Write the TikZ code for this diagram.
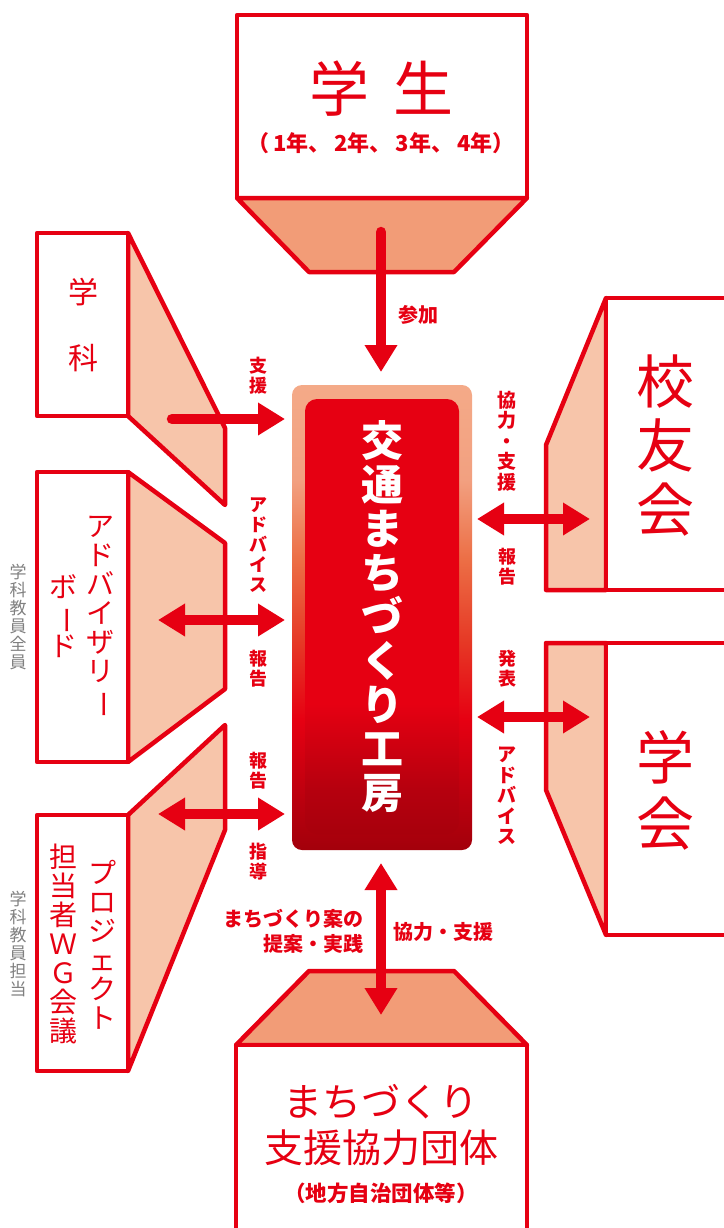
\documentclass[tikz,border=0pt]{standalone}
\usepackage{fontspec}
\usepackage{graphicx}
\newfontfamily\jp{Noto Sans CJK JP}
\usetikzlibrary{arrows.meta}
\definecolor{kred}{HTML}{E60012}
\definecolor{roofc}{HTML}{F29C77}
\definecolor{peach}{HTML}{F7C5AA}
\definecolor{kgray}{HTML}{808080}
\definecolor{o1}{HTML}{A3000B}
\definecolor{o2}{HTML}{B8000E}
\definecolor{o3}{HTML}{E63A26}
\definecolor{o4}{HTML}{EC6E45}
\definecolor{o5}{HTML}{F2A080}
\definecolor{o6}{HTML}{F4AA88}
\definecolor{i1}{HTML}{A8000C}
\definecolor{i2}{HTML}{B5000E}
\pgfdeclareverticalshading{outersh}{100bp}{color(0bp)=(o1); color(25bp)=(o1); color(30bp)=(o2); color(39bp)=(kred); color(47.6bp)=(o3); color(56.2bp)=(o4); color(64.8bp)=(o5); color(75bp)=(o6); color(100bp)=(o6)}
\pgfdeclareverticalshading{innersh}{100bp}{color(0bp)=(i1); color(25bp)=(i1); color(30bp)=(i2); color(40bp)=(kred); color(100bp)=(kred)}
\newcommand\vchoon{\rotatebox[origin=c]{-90}{ー}}
\tikzset{
  box/.style={draw=kred, line width=4.5pt, fill=white, line join=round},
  panel/.style={draw=kred, line width=4.5pt, fill=peach, line join=round},
  roof/.style={draw=kred, line width=4.5pt, fill=roofc, line join=round},
  tipT/.tip={Triangle[width=31pt,length=27pt]},
  arr/.style={draw=kred, line width=10.5pt, line cap=round, -tipT},
  darr/.style={draw=kred, line width=10.5pt, tipT-tipT},
  lab/.style={text=kred, font=\jp\bfseries\fontsize{18}{19.8}\selectfont, align=center, inner sep=0pt},
  big/.style={text=kred, align=center, inner sep=0pt},
  side/.style={text=kgray, font=\jp\fontsize{17}{18}\selectfont, align=center, inner sep=0pt}
}
\begin{document}
\begin{tikzpicture}[x=1pt,y=-1pt]
\useasboundingbox (0,0) rectangle (723,1228);
% ---- top: students
\path[box] (237,15) rectangle (527,198);
\path[roof] (237,198) -- (309,272) -- (454,272) -- (527,198) -- cycle;
\node[big, font=\jp\fontsize{60}{62}\selectfont] (gakusei) at (381,89) {学\hspace{24pt}生};
\node[big, font=\jp\bfseries\fontsize{22}{25}\selectfont] (nen) at (381,143) {（\hspace{4pt}1年、\hspace{4pt}2年、\hspace{4pt}3年、\hspace{4pt}4年）};
% ---- left boxes
\path[panel] (128,233) -- (225,428) -- (225,505) -- (128,416) -- cycle;
\path[box] (37,233) rectangle (128,416);
\node[big, font=\jp\fontsize{30}{66}\selectfont] (gakka) at (83,325) {学\\科};
\path[panel] (128,472) -- (225,543) -- (225,689) -- (128,762) -- cycle;
\path[box] (37,472) rectangle (128,762);
\node[big, font=\jp\fontsize{28}{29}\selectfont] (adv1) at (100,617) {ア\\ド\\バ\\イ\\ザ\\リ\\\vchoon};
\node[big, font=\jp\fontsize{28}{29}\selectfont] (adv2) at (63,616) {ボ\\\vchoon\\ド};
\path[panel] (128,815) -- (225,725) -- (225,830) -- (128,1071) -- cycle;
\path[box] (37,815) rectangle (128,1071);
\node[big, font=\jp\fontsize{28}{29}\selectfont] (pj1) at (102,945) {プ\\ロ\\ジ\\ェ\\ク\\ト};
\node[big, font=\jp\fontsize{28}{29}\selectfont] (pj2) at (63,944) {担\\当\\者\\Ｗ\\Ｇ\\会\\議};
\node[side] (all) at (18,617) {学\\科\\教\\員\\全\\員};
\node[side] (tan) at (18,944) {学\\科\\教\\員\\担\\当};
% ---- right boxes
\path[panel] (606,298) -- (546,445) -- (546,590) -- (606,590) -- cycle;
\path[box] (606,298) rectangle (740,590);
\node[big, font=\jp\fontsize{58}{64}\selectfont] (koyu) at (665,446) {校\\友\\会};
\path[panel] (606,643) -- (546,643) -- (546,790) -- (606,935) -- cycle;
\path[box] (606,643) rectangle (740,935);
\node[big, font=\jp\fontsize{58}{66}\selectfont] (gakkai) at (665,790) {学\\会};
% ---- bottom box
\path[roof] (236,1045) -- (309,971) -- (454,971) -- (527,1045) -- cycle;
\path[box] (236,1045) rectangle (527,1240);
\node[big, font=\jp\fontsize{39}{46}\selectfont] (dantai) at (381,1125) {まちづくり\\支援協力団体};
\node[big, font=\jp\bfseries\fontsize{21.5}{23}\selectfont] (chiho) at (381,1193) {（地方自治団体等）};
% ---- hub
\node[minimum width=180pt, minimum height=465pt, rounded corners=10pt, shading=outersh, inner sep=0pt] (hubo) at (382,617.5) {};
\node[minimum width=154pt, minimum height=435pt, rounded corners=12pt, shading=innersh, inner sep=0pt,
      text=white, align=center, font=\jp\bfseries\fontsize{42}{44}\selectfont] (hub) at (382,616.5)
      {交\\通\\ま\\ち\\づ\\く\\り\\工\\房};
% ---- connector coordinates
\coordinate (s1) at (381,232); \coordinate (s2) at (381,372);
\coordinate (k1) at (172,419); \coordinate (k2) at (285,419);
\coordinate (a1) at (158,620); \coordinate (a2) at (285,620);
\coordinate (p1) at (158,814); \coordinate (p2) at (285,814);
\coordinate (y1) at (477,519); \coordinate (y2) at (590,519);
\coordinate (g1) at (477,717); \coordinate (g2) at (590,717);
\coordinate (b1) at (381,863); \coordinate (b2) at (381,1015);
\draw[arr] (s1) -- (s2);
\draw[arr] (k1) -- (k2);
\draw[darr] (a1) -- (a2);
\draw[darr] (p1) -- (p2);
\draw[darr] (y1) -- (y2);
\draw[darr] (g1) -- (g2);
\draw[darr] (b1) -- (b2);
% ---- labels
\node[lab, font=\jp\bfseries\fontsize{20}{22}\selectfont] (l1) at (418,315) {参加};
\node[lab] (l2) at (258,376) {支\\援};
\node[lab] (l3) at (258,545) {ア\\ド\\バ\\イ\\ス};
\node[lab] (l4) at (258,669) {報\\告};
\node[lab] (l5) at (258,771) {報\\告};
\node[lab] (l6) at (258,862) {指\\導};
\node[lab, font=\jp\bfseries\fontsize{19}{20.5}\selectfont] (l7) at (507,441) {協\\力\\・\\支\\援};
\node[lab] (l8) at (507,567) {報\\告};
\node[lab] (l9) at (507,669) {発\\表};
\node[lab, font=\jp\bfseries\fontsize{19}{20.5}\selectfont] (l10) at (507,796) {ア\\ド\\バ\\イ\\ス};
\node[lab, anchor=east, align=right, font=\jp\bfseries\fontsize{20}{25}\selectfont] (l11) at (364,931) {まちづくり案の\\提案・実践};
\node[lab, anchor=west, font=\jp\bfseries\fontsize{20}{22}\selectfont] (l12) at (393,932) {協力・支援};
\end{tikzpicture}
\end{document}
